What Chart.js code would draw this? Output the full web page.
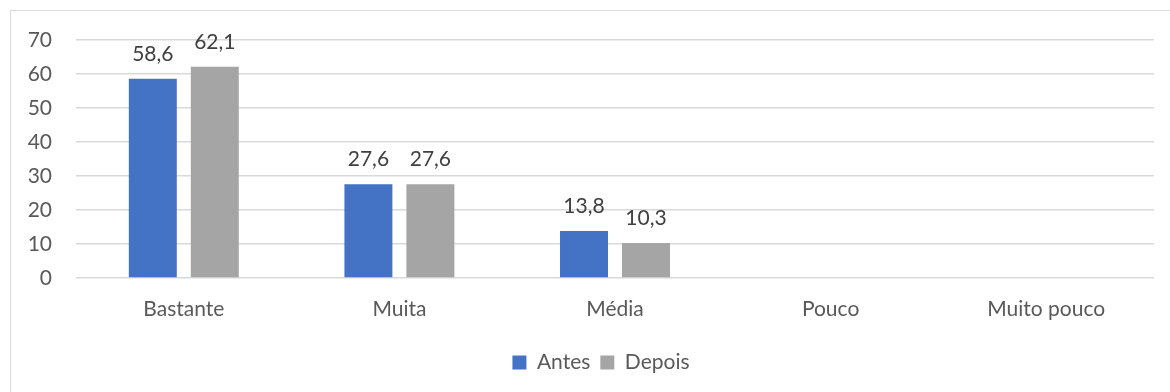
<!DOCTYPE html>
<html lang="pt">
<head>
    <meta charset="UTF-8">
    <title>Antes e depois</title>
    <style>
        html, body { margin: 0; padding: 0; background: #fff; overflow: hidden; }
        #frame {
            position: absolute; left: 10px; top: 10px;
            width: 1180px; height: 400px;
            border: 1px solid #d9d9d9;
        }
    </style>
</head>
<body>
    <div id="frame">
        <canvas id="chart" width="1180" height="381"></canvas>
    </div>
    <script src="https://cdn.jsdelivr.net/npm/chart.js"></script>
    <script>
        const categorias = ['Bastante', 'Muita', 'Média', 'Pouco', 'Muito pouco'];
        const antes = [58.6, 27.6, 13.8, null, null];
        const depois = [62.1, 27.6, 10.3, null, null];
        const yTicks = [0, 10, 20, 30, 40, 50, 60, 70];

        const fonte = 'Lato, "Open Sans", sans-serif';

        // valores por cima das barras, com vírgula decimal
        const rotulos = {
            id: 'rotulos',
            afterDatasetsDraw(chart) {
                const ctx = chart.ctx;
                ctx.save();
                ctx.font = '21px ' + fonte;
                ctx.fillStyle = '#404040';
                ctx.textAlign = 'center';
                ctx.textBaseline = 'middle';
                chart.data.datasets.forEach((ds, i) => {
                    chart.getDatasetMeta(i).data.forEach((bar, j) => {
                        const v = ds.data[j];
                        if (v === null) return;
                        ctx.fillText(v.toFixed(1).replace('.', ','), bar.x, bar.y - 25);
                    });
                });
                ctx.restore();
            }
        };

        new Chart(document.getElementById('chart'), {
            type: 'bar',
            data: {
                labels: categorias,
                datasets: [
                    { label: 'Antes', data: antes, backgroundColor: '#4472C4' },
                    { label: 'Depois', data: depois, backgroundColor: '#A5A5A5' }
                ]
            },
            options: {
                responsive: false,
                animation: false,
                categoryPercentage: 0.575,
                barPercentage: 0.774,
                layout: { padding: { left: 0, right: 0, top: 29, bottom: 9 } },
                plugins: {
                    tooltip: { enabled: false },
                    legend: {
                        position: 'bottom',
                        labels: {
                            color: '#595959',
                            font: { family: fonte, size: 21 },
                            boxWidth: 14,
                            boxHeight: 14,
                            padding: 10
                        }
                    }
                },
                scales: {
                    x: {
                        grid: { display: false },
                        border: { display: false },
                        ticks: { color: '#595959', font: { family: fonte, size: 21 }, padding: 11 },
                        afterFit: (s) => { s.height = 64; }
                    },
                    y: {
                        min: 0,
                        max: 70,
                        afterBuildTicks: (s) => { s.ticks = yTicks.map(v => ({ value: v })); },
                        grid: { color: '#d9d9d9', lineWidth: 1.5, drawTicks: false },
                        border: { display: false },
                        ticks: { color: '#595959', font: { family: fonte, size: 21 }, padding: 24 },
                        afterFit: (s) => {
                            s.width = 65;
                            s.paddingTop = 0;
                            s.paddingBottom = 0;
                        }
                    },
                    // margem direita vazia, para a legenda ficar centrada no quadro
                    margem: {
                        position: 'right',
                        grid: { display: false },
                        border: { display: false },
                        ticks: { display: false },
                        afterFit: (s) => { s.width = 37; }
                    }
                }
            },
            plugins: [rotulos]
        });
    </script>
</body>
</html>
